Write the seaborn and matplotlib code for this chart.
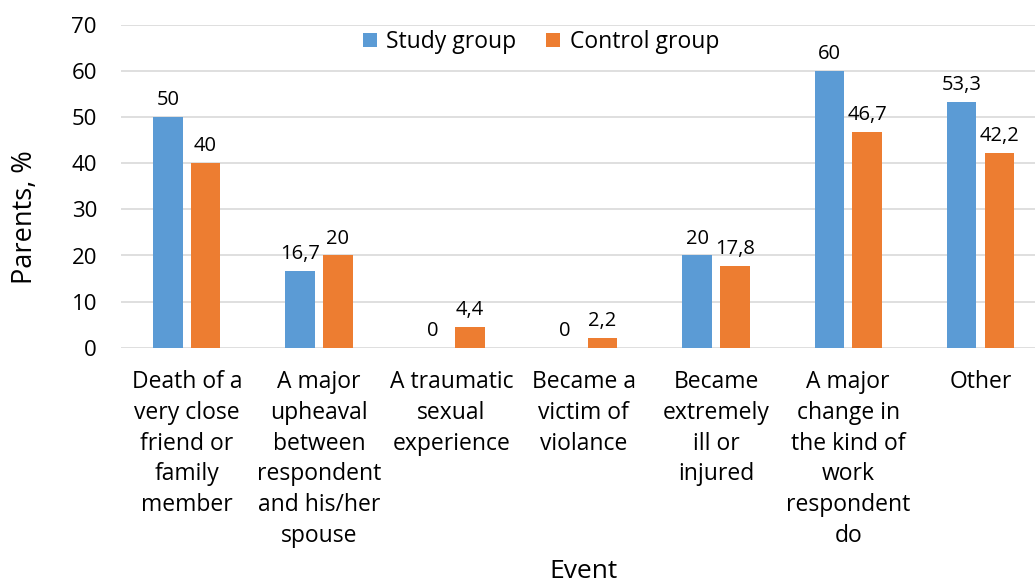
import matplotlib
matplotlib.use("Agg")
import matplotlib.pyplot as plt
from matplotlib.patches import Patch
import seaborn as sns
import pandas as pd

# Chart data
categories = [
    "Death of a\nvery close\nfriend or\nfamily\nmember",
    "A major\nupheaval\nbetween\nrespondent\nand his/her\nspouse",
    "A traumatic\nsexual\nexperience",
    "Became a\nvictim of\nviolance",
    "Became\nextremely\nill or\ninjured",
    "A major\nchange in\nthe kind of\nwork\nrespondent\ndo",
    "Other",
]
groups = ["Study group", "Control group"]
study_values = [50, 16.7, 0, 0, 20, 60, 53.3]
control_values = [40, 20, 4.4, 2.2, 17.8, 46.7, 42.2]
y_ticks = [0, 10, 20, 30, 40, 50, 60, 70]

colors = {"Study group": "#5B9BD5", "Control group": "#ED7D31"}

df = pd.DataFrame({
    "Event": categories * 2,
    "Group": [groups[0]] * len(categories) + [groups[1]] * len(categories),
    "Parents, %": study_values + control_values,
})

sns.set_theme(style="white")
plt.rcParams["font.family"] = ["Open Sans", "DejaVu Sans"]
TEXT = "#000000"

W, H = 1035, 583
fig = plt.figure(figsize=(W / 100, H / 100), dpi=100)
# plot area runs slightly past the right edge of the canvas
left, right, top, bottom = 120.6, 1046.7, 25.0, 347.7
ax = fig.add_axes([left / W, 1 - bottom / H, (right - left) / W, (bottom - top) / H])

sns.barplot(
    data=df, x="Event", y="Parents, %", hue="Group",
    order=categories, hue_order=groups, palette=colors,
    width=0.57, gap=0.22, ax=ax, legend=False,
    linewidth=0, saturation=1,
)

ax.set_ylim(0, 70)
ax.set_xlim(-0.5, len(categories) - 0.5)
ax.set_yticks(y_ticks)
ax.set_yticklabels([str(t) for t in y_ticks], fontsize=16, color=TEXT)
ax.tick_params(axis="y", length=0, pad=17)
ax.tick_params(axis="x", length=0, pad=16)
for lbl in ax.get_xticklabels():
    lbl.set_fontsize(16.5)
    lbl.set_color(TEXT)
    lbl.set_linespacing(1.38)
    lbl.set_multialignment("center")

ax.yaxis.grid(True, color="#D9D9D9", linewidth=1.2)
ax.set_axisbelow(True)
for s in ax.spines.values():
    s.set_visible(False)

# value labels with comma decimal separators
def fmt(v):
    return f"{v:g}".replace(".", ",")

for cont, vals in zip(ax.containers, [study_values, control_values]):
    ax.bar_label(cont, labels=[fmt(v) for v in vals], padding=5,
                 fontsize=14.5, color=TEXT)

ax.set_ylabel("Parents, %", fontsize=19.5, color=TEXT)
ax.yaxis.set_label_coords((39 - left) / (right - left), (bottom - 217) / (bottom - top))
ax.set_xlabel("Event", fontsize=19, color=TEXT)
ax.xaxis.set_label_coords((583 - left) / (right - left), (bottom - 559.5) / (bottom - top))

handles = [Patch(facecolor=colors[g], edgecolor="none") for g in groups]
fig.legend(handles, groups, loc="center", bbox_to_anchor=(541 / W, 1 - 42 / H),
           ncol=2, frameon=False, fontsize=16.5, handlelength=0.62, handleheight=0.62,
           handletextpad=0.4, columnspacing=1.3, labelcolor=TEXT,
           borderpad=0, borderaxespad=0)

fig.savefig("out.png", dpi=100)
